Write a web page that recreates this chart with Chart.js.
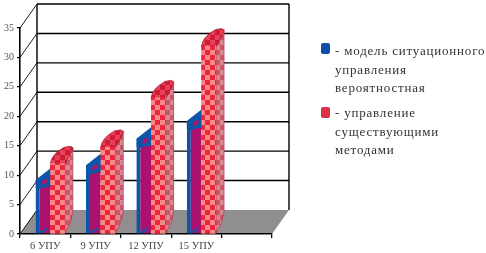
<!DOCTYPE html>
<html>
<head>
<meta charset="utf-8">
<script src="https://cdn.jsdelivr.net/npm/chart.js@4/dist/chart.umd.min.js"></script>
<style>
  body { margin: 0; background: #fff; width: 486px; height: 253px; overflow: hidden; position: relative; }
  #c { position: absolute; left: 0; top: 0; filter: blur(0.4px); }
  .sw { position: absolute; left: 321px; width: 9px; height: 11px; border-radius: 2px; filter: blur(0.4px); }
  .leg { position: absolute; left: 335px; font: 13px/18.5px "Liberation Serif", serif; color: #333; letter-spacing: 0.8px; white-space: pre; filter: blur(0.4px); }
</style>
</head>
<body>
<canvas id="c" width="486" height="253"></canvas>
<div class="sw" style="top:43px;background:#0c4fa6"></div>
<div class="leg" style="top:42px">- модель ситуационного
управления
вероятностная</div>
<div class="sw" style="top:107px;background:#e03048"></div>
<div class="leg" style="top:104px">- управление
существующими
методами</div>
<script>
var categories = ['6 УПУ', '9 УПУ', '12 УПУ', '15 УПУ', ''];
var modelValues = [8, 10.5, 15, 18];
var currentValues = [12, 14.8, 23.2, 32];
var yTicks = [0, 5, 10, 15, 20, 25, 30, 35];

// depth of the fake 3d box
var wallX = 17, wallY = -24;
var barShift = 5;

function checker(light, dark) {
  var p = document.createElement('canvas');
  p.width = 10; p.height = 10;
  var g = p.getContext('2d');
  g.fillStyle = light;
  g.fillRect(0, 0, 10, 10);
  g.fillStyle = dark;
  g.fillRect(0, 0, 5, 5);
  g.fillRect(5, 5, 5, 5);
  return document.getElementById('c').getContext('2d').createPattern(p, 'repeat');
}
var redChecker = checker('#f68a84', '#ee2540');
var sideChecker = checker('#d88a90', '#c85868');
var capChecker = checker('#e84058', '#cf1c36');

function drawBlueDepth(ctx, el) {
  var x0 = el.x - el.width / 2, y = el.y, w = el.width;
  ctx.fillStyle = '#0c55a8';
  ctx.beginPath();
  ctx.moveTo(x0, y + 1);
  ctx.lineTo(x0, y - 7);
  ctx.lineTo(x0 + w + 2, y - 20);
  ctx.lineTo(x0 + w + 2, y + 1);
  ctx.closePath();
  ctx.fill();
  ctx.fillStyle = '#a8186c';
  ctx.beginPath();
  ctx.ellipse(x0 + 9, y - 5, 3.5, 2, -0.7, 0, Math.PI * 2);
  ctx.fill();
}

// blue rim under the cap and at the foot of the bar
function drawBlueRim(ctx, el) {
  var x0 = el.x - el.width / 2, y = el.y, w = el.width, b = el.base;
  ctx.strokeStyle = '#0c55a8';
  ctx.lineWidth = 2;
  ctx.beginPath();
  ctx.moveTo(x0 + 3, y + 1);
  ctx.quadraticCurveTo(x0 + 9, y + 1, x0 + w, y - 5);
  ctx.moveTo(x0 + 3, b - 1);
  ctx.quadraticCurveTo(x0 + 8, b - 1, x0 + 11, b - 5);
  ctx.stroke();
}

function drawRedDepth(ctx, el) {
  var x0 = el.x - el.width / 2, y = el.y, w = el.width, b = el.base, d = 8;
  // right side
  ctx.fillStyle = sideChecker;
  ctx.beginPath();
  ctx.moveTo(x0 + w, y);
  ctx.lineTo(x0 + w + d, y - 16);
  ctx.lineTo(x0 + w + d, b - 22);
  ctx.quadraticCurveTo(x0 + w + d - 1, b - 10, x0 + w, b);
  ctx.closePath();
  ctx.fill();
  ctx.strokeStyle = '#b8404e';
  ctx.lineWidth = 0.8;
  ctx.stroke();
  // rounded cap
  ctx.fillStyle = capChecker;
  ctx.beginPath();
  ctx.moveTo(x0, y + 1);
  ctx.quadraticCurveTo(x0 + 1, y - 9, x0 + 14, y - 16);
  ctx.lineTo(x0 + w + d - 3, y - 17);
  ctx.quadraticCurveTo(x0 + w + d, y - 17, x0 + w + d, y - 14);
  ctx.lineTo(x0 + w, y + 1);
  ctx.closePath();
  ctx.fill();
  ctx.strokeStyle = '#a81830';
  ctx.stroke();
}

var box3d = {
  id: 'box3d',
  beforeDraw: function (chart) {
    var ctx = chart.ctx, a = chart.chartArea, ys = chart.scales.y;
    var backBase = a.bottom + wallY, backRight = a.right + wallX, backLeft = a.left + wallX;
    ctx.save();
    // floor
    ctx.fillStyle = '#918e92';
    ctx.beginPath();
    ctx.moveTo(a.left, a.bottom);
    ctx.lineTo(backLeft, backBase);
    ctx.lineTo(backRight, backBase);
    ctx.lineTo(a.right, a.bottom);
    ctx.closePath();
    ctx.fill();
    // back wall lines and the diagonals on the left wall
    ctx.strokeStyle = '#000';
    yTicks.forEach(function (v) {
      var py = ys.getPixelForValue(v);
      ctx.lineWidth = 1.4;
      if (v > 0) {
        ctx.beginPath();
        ctx.moveTo(backLeft, py + wallY);
        ctx.lineTo(backRight, py + wallY);
        ctx.stroke();
      }
      ctx.lineWidth = 0.9;
      ctx.beginPath();
      ctx.moveTo(a.left, py);
      ctx.lineTo(backLeft, py + wallY);
      ctx.stroke();
    });
    ctx.lineWidth = 1.4;
    ctx.beginPath();
    ctx.moveTo(backLeft, backBase);
    ctx.lineTo(backLeft, ys.getPixelForValue(35) + wallY);
    ctx.moveTo(backRight, backBase);
    ctx.lineTo(backRight, ys.getPixelForValue(35) + wallY);
    ctx.stroke();
    ctx.restore();
  },
  beforeDatasetDraw: function (chart, args) {
    var ctx = chart.ctx;
    ctx.save();
    ctx.translate(barShift, 0);
    if (args.index === 0) {
      args.meta.data.forEach(function (el) { drawBlueDepth(ctx, el); });
    }
  },
  afterDatasetDraw: function (chart, args) {
    var ctx = chart.ctx;
    if (args.index === 0) {
      args.meta.data.forEach(function (el) { drawBlueRim(ctx, el); });
    }
    ctx.restore();
  },
  // datasets paint last-to-first, the red one has to end up in front of the blue one
  afterDatasetsDraw: function (chart) {
    var ctx = chart.ctx;
    ctx.save();
    ctx.translate(barShift, 0);
    chart.getDatasetMeta(1).data.forEach(function (el) {
      drawRedDepth(ctx, el);
      el.draw(ctx);
    });
    ctx.restore();
  }
};

new Chart(document.getElementById('c'), {
  type: 'bar',
  plugins: [box3d],
  data: {
    labels: categories,
    datasets: [{
      label: 'модель ситуационного управления вероятностная',
      data: modelValues,
      backgroundColor: '#ab1270',
      borderColor: '#0c55a8',
      borderWidth: { left: 4, right: 0, top: 0, bottom: 0 },
      borderSkipped: false,
      clip: false
    }, {
      label: 'управление существующими методами',
      data: currentValues,
      backgroundColor: redChecker,
      borderWidth: 0,
      clip: false
    }]
  },
  options: {
    responsive: false,
    animation: false,
    events: [],
    layout: { padding: { top: 28, right: 214, bottom: 0, left: 0 } },
    categoryPercentage: 0.58,
    barPercentage: 1,
    plugins: { legend: { display: false }, tooltip: { enabled: false } },
    scales: {
      x: {
        afterFit: function (s) { s.height = 19; },
        grid: { offset: true, drawOnChartArea: false, color: '#000', tickLength: 4, lineWidth: 1.3 },
        border: { color: '#000', width: 1.6 },
        ticks: {
          maxRotation: 0, autoSkip: false, padding: 2, color: '#444',
          font: { family: 'Liberation Serif', size: 10.5 }
        }
      },
      y: {
        min: 0, max: 35,
        afterFit: function (s) { s.width = 20; },
        grid: { drawOnChartArea: false, color: '#000', tickLength: 3, lineWidth: 1.2 },
        border: { color: '#000', width: 1.6 },
        ticks: {
          stepSize: 5, padding: 3, color: '#555',
          font: { family: 'Liberation Serif', size: 10 }
        }
      }
    }
  }
});
</script>
</body>
</html>
